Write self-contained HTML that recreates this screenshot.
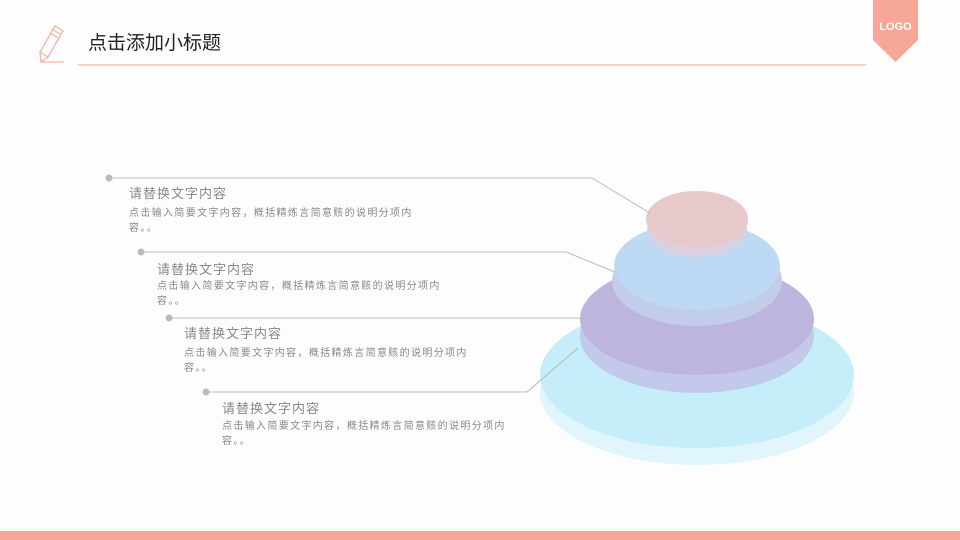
<!DOCTYPE html><html><head><meta charset="utf-8"><style>
body{margin:0;width:960px;height:540px;background:#fdfdfd;overflow:hidden;font-family:"Liberation Sans","Noto Sans CJK SC",sans-serif}
</style></head><body>
<svg width="960" height="540" xmlns="http://www.w3.org/2000/svg" style="position:absolute;left:0;top:0">
<g fill="none" stroke="#efb4a8" stroke-width="1.3">
<path d="M55 26 L63 31 L48 57 L40 52 Z"/><path d="M52 29 L60 34"/><path d="M50 33 L58 38"/>
<path d="M40 52 L41 62 L48 57"/><path d="M41 62 L64 62"/></g>
<text x="88" y="49" font-size="19" fill="#222">点击添加小标题</text>
<line x1="78" y1="65" x2="866" y2="65" stroke="#f0b8a8" stroke-width="1.2"/>
<path d="M873 0 H918 V40 L895.5 62 L873 40 Z" fill="#f6a797"/>
<text x="895.5" y="30" font-size="11" font-weight="bold" fill="#fff" text-anchor="middle">LOGO</text>
<rect x="0" y="531" width="960" height="9" fill="#f6a797"/>
<ellipse cx="697" cy="392" rx="157" ry="73" fill="#e1f5fc"/>
<ellipse cx="697" cy="375" rx="157" ry="73" fill="#c5edfa"/>
<ellipse cx="697" cy="336" rx="117" ry="57" fill="#c3c9ea"/>
<ellipse cx="697" cy="319" rx="117" ry="56" fill="#bdb5de"/>
<ellipse cx="697" cy="281" rx="85" ry="45" fill="#c2cdea"/>
<ellipse cx="697" cy="266" rx="83" ry="44" fill="#bdd9f3"/>
<ellipse cx="697" cy="230" rx="50" ry="27" fill="#d9d1df"/>
<ellipse cx="697" cy="219" rx="51" ry="28" fill="#e8c9cb"/>
<g stroke="#bbb" stroke-width="1" fill="none">
<polyline points="109,178 592,178 650,213"/>
<polyline points="141,252 566,252 615,272"/>
<polyline points="169,318 590,318"/>
<polyline points="206,392 527,392 578,348"/>
</g>
<g fill="#bbb"><circle cx="109" cy="178" r="3.5"/><circle cx="141" cy="252" r="3.5"/><circle cx="169" cy="318" r="3.5"/><circle cx="206" cy="392" r="3.5"/></g>
<g fill="#888">
<g font-size="13" letter-spacing="1">
<text x="129" y="198">请替换文字内容</text>
<text x="157" y="274">请替换文字内容</text>
<text x="184" y="338">请替换文字内容</text>
<text x="222" y="413">请替换文字内容</text>
</g>
<g font-size="10" letter-spacing="1.35">
<text x="129" y="216">点击输入简要文字内容，概括精炼言简意赅的说明分项内</text>
<text x="129" y="231">容。。</text>
<text x="157" y="289">点击输入简要文字内容，概括精炼言简意赅的说明分项内</text>
<text x="157" y="304">容。。</text>
<text x="184" y="356">点击输入简要文字内容，概括精炼言简意赅的说明分项内</text>
<text x="184" y="371">容。。</text>
<text x="222" y="429">点击输入简要文字内容，概括精炼言简意赅的说明分项内</text>
<text x="222" y="444">容。。</text>
</g>
</g>
</svg>
</body></html>
